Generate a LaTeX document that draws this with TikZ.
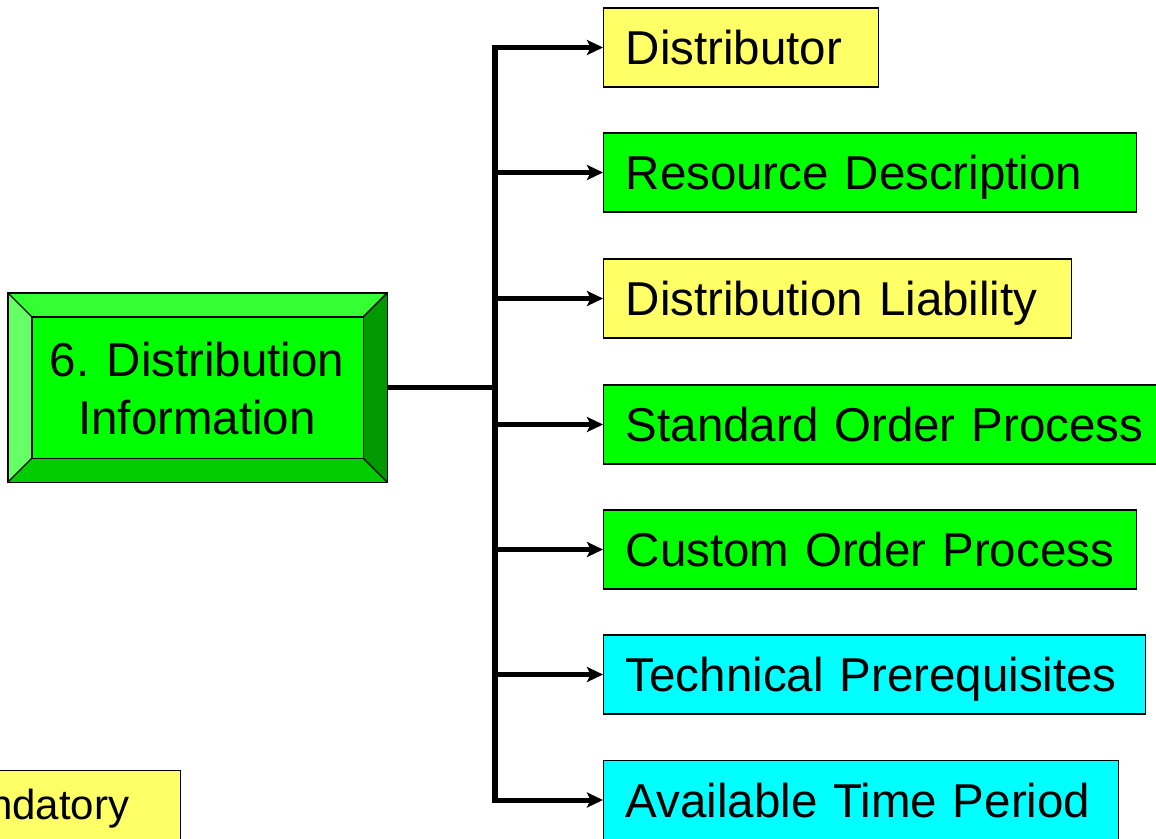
\documentclass[tikz,border=0pt]{standalone}
\usepackage{fontspec}
\setmainfont{Liberation Sans}
\usetikzlibrary{arrows.meta,calc}
\definecolor{ylw}{HTML}{FFFF66}
\definecolor{grn}{HTML}{00FF00}
\definecolor{cyn}{HTML}{00FFFF}
\definecolor{bvtop}{HTML}{33FF33}
\definecolor{bvleft}{HTML}{66FF66}
\definecolor{bvright}{HTML}{009900}
\definecolor{bvbot}{HTML}{00CC00}
\tikzset{
  rbox/.style={draw=black, line width=1.4pt, anchor=west, minimum height=79pt,
    inner xsep=22pt, inner ysep=0pt, align=left, text height=34pt, text depth=0pt,
    font=\fontsize{47.5}{56}\selectfont},
  conn/.style={line width=5.5pt},
  arr/.style={line width=5pt, -{Stealth[length=16pt,width=15pt,inset=3.5pt]}},
  bevel/.style={draw=black, line width=1.4pt, line join=miter},
}
\begin{document}
\begin{tikzpicture}[x=1pt,y=-1pt]
\useasboundingbox (0,0) rectangle (1156,838);
% main bevel box
\node[minimum width=379pt, minimum height=189pt, inner sep=0pt] (main) at (197.5,387.5) {};
\coordinate (inw) at ($(main.north west)+(24,24)$);
\coordinate (ine) at ($(main.north east)+(-24,24)$);
\coordinate (isw) at ($(main.south west)+(24,-24)$);
\coordinate (ise) at ($(main.south east)+(-24,-24)$);
\fill[bvtop] (main.north west) -- (main.north east) -- (ine) -- (inw) -- cycle;
\fill[bvleft] (main.north west) -- (inw) -- (isw) -- (main.south west) -- cycle;
\fill[bvright] (main.north east) -- (main.south east) -- (ise) -- (ine) -- cycle;
\fill[bvbot] (main.south west) -- (isw) -- (ise) -- (main.south east) -- cycle;
\fill[grn] (inw) rectangle (ise);
\draw[bevel] (main.north west) rectangle (main.south east);
\draw[bevel] (inw) rectangle (ise);
\draw[bevel] (main.north west) -- (inw) (main.north east) -- (ine)
  (main.south west) -- (isw) (main.south east) -- (ise);
\node[align=center, font=\fontsize{47.5}{58}\selectfont, inner sep=0pt] (maintxt) at (197,389)
  {6. Distribution\\Information};
% right boxes
\node[rbox, fill=ylw, text width=231pt] (b1) at (603,47.5) {\mbox{Distributor}};
\node[rbox, fill=grn, text width=489pt] (b2) at (603,172.5) {\mbox{Resource Description}};
\node[rbox, fill=ylw, text width=424pt] (b3) at (603,298.5) {\mbox{Distribution Liability}};
\node[rbox, fill=grn, text width=512pt] (b4) at (603,424.5) {\mbox{Standard Order Process}};
\node[rbox, fill=grn, text width=489pt] (b5) at (603,549.5) {\mbox{Custom Order Process}};
\node[rbox, fill=cyn, text width=498pt] (b6) at (603,674.5) {\mbox{Technical Prerequisites}};
\node[rbox, fill=cyn, text width=471pt] (b7) at (603,800) {\mbox{Available Time Period}};
% legend (cut by the left edge, as in the reference)
\node[draw=black, line width=1.4pt, fill=ylw, anchor=north east, minimum height=75pt,
  text width=170pt, align=right, inner xsep=51pt, inner ysep=0pt,
  font=\fontsize{42}{50}\selectfont] (legend) at (181,770) {ndatory};
% connectors
\coordinate (trunk) at (495,387.5);
\draw[conn] (main.east) -- (trunk);
\draw[conn, line cap=rect] (b1.west -| trunk) -- (b7.west -| trunk);
\foreach \b in {b1,b2,b3,b4,b5,b6,b7}{
  \draw[arr] (\b.west -| trunk) -- (\b.west);
}
\end{tikzpicture}
\end{document}
